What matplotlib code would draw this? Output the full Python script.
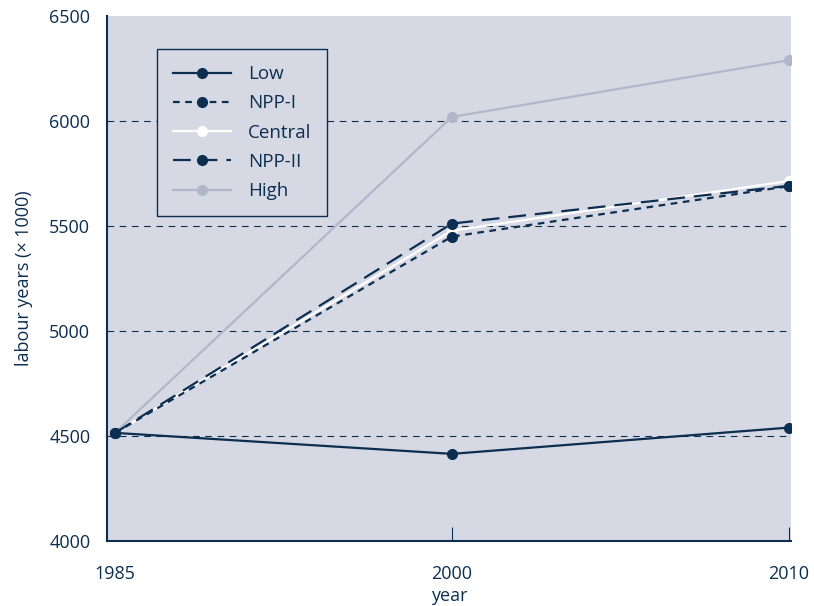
import matplotlib
matplotlib.use("Agg")
import matplotlib.pyplot as plt

years = ["1985", "2000", "2010"]
low = [4515, 4415, 4540]
npp_1 = [4515, 5450, 5690]
central = [4515, 5478, 5715]
npp_2 = [4515, 5512, 5692]
high = [4515, 6020, 6290]

navy = "#0c2e50"
bg = "#d6d9e4"
grey = "#b1b7ca"

plt.rcParams["font.family"] = ["Open Sans", "DejaVu Sans"]

fig = plt.figure(figsize=(8.14, 6.06), dpi=100)
ax = fig.add_axes([0.1314, 0.1073, 0.840, 0.866])
ax.set_facecolor(bg)

x = list(range(len(years)))
ms = 7
lw = 1.6
ax.plot(x, high, color=grey, lw=lw, marker="o", ms=ms, label="High", zorder=3)
ax.plot(x, low, color=navy, lw=lw, marker="o", ms=ms, label="Low", zorder=4)
ax.plot(x, npp_1, color=navy, lw=lw, ls=(0, (3, 2.5)), marker="o", ms=ms, label="NPP-I", zorder=5)
ax.plot(x, central, color="white", lw=lw, marker="o", ms=ms, label="Central", zorder=4)
ax.plot(x, npp_2, color=navy, lw=lw, ls=(0, (8, 4)), marker="o", ms=ms, label="NPP-II", zorder=6)

for v in [4500, 5000, 5500, 6000]:
    ax.axhline(v, color=navy, lw=0.8, ls=(0, (6, 5)), zorder=1)

ax.set_xlim(-0.024, 2.006)
ax.set_ylim(4000, 6500)
ax.set_xticks(x)
ax.set_xticklabels(years)
ax.set_yticks([4000, 4500, 5000, 5500, 6000, 6500])

for s in ["top", "right"]:
    ax.spines[s].set_visible(False)
for s in ["left", "bottom"]:
    ax.spines[s].set_color(navy)
    ax.spines[s].set_linewidth(1.5)

ax.tick_params(axis="x", direction="in", length=10, color=navy, width=0.8,
               labelsize=13, labelcolor=navy, pad=17)
ax.xaxis.get_major_ticks()[0].tick1line.set_visible(False)
ax.tick_params(axis="y", length=0, labelsize=13, labelcolor=navy, pad=12)
ax.set_xlabel("year", fontsize=13, color=navy, labelpad=3)
ax.set_ylabel("labour years (\u00d7 1000)", fontsize=13, color=navy, labelpad=12)

handles, labels = ax.get_legend_handles_labels()
order = ["Low", "NPP-I", "Central", "NPP-II", "High"]
hmap = dict(zip(labels, handles))
leg = ax.legend([hmap[k] for k in order], order, loc="upper left",
                bbox_to_anchor=(0.073, 0.937), fontsize=13.5, frameon=True,
                fancybox=False, facecolor=bg, edgecolor=navy, framealpha=1,
                handlelength=3.1, labelspacing=0.6, borderpad=0.85,
                handletextpad=0.9, borderaxespad=0)
leg.get_frame().set_linewidth(1.0)
for t in leg.get_texts():
    t.set_color(navy)
leg.set_zorder(10)

fig.savefig("out.png", dpi=100)
